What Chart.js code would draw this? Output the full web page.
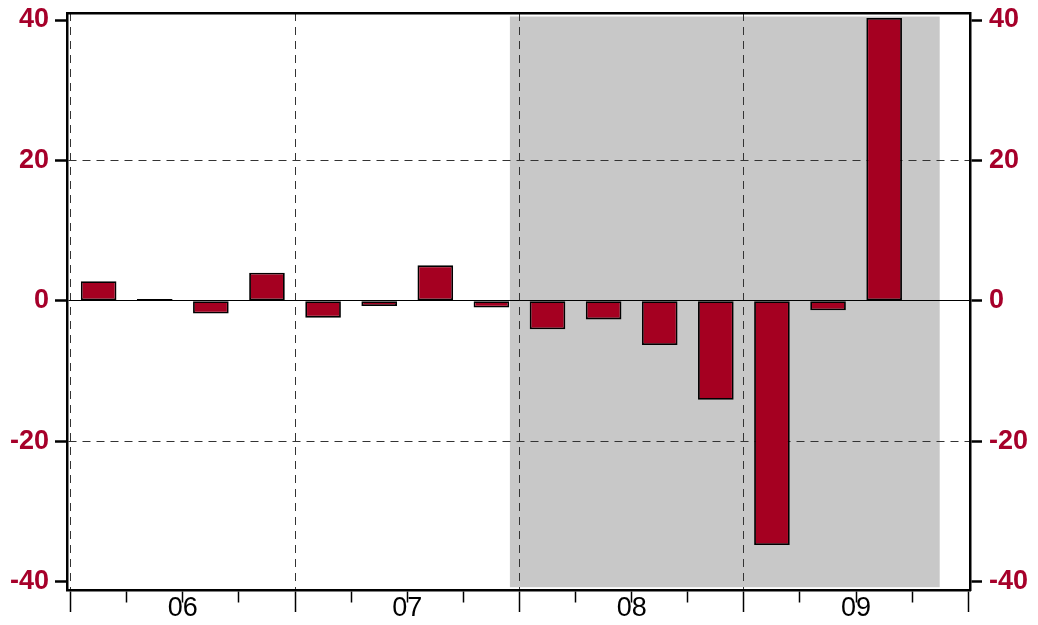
<!DOCTYPE html>
<html>
<head>
<meta charset="utf-8">
<script src="https://cdn.jsdelivr.net/npm/chart.js@4"></script>
<style>
html,body{margin:0;padding:0;background:#fff}
#wrap{width:1038px;height:625px;position:relative}
</style>
</head>
<body>
<div id="wrap"><canvas id="c"></canvas></div>
<script>
// ---- data ----
const quarters = ['2006Q1','2006Q2','2006Q3','2006Q4','2007Q1','2007Q2','2007Q3','2007Q4',
                  '2008Q1','2008Q2','2008Q3','2008Q4','2009Q1','2009Q2','2009Q3'];
const values = [2.8, 0.25, -1.8, 4.0, -2.4, -0.75, 5.05, -0.95,
                -4.05, -2.65, -6.3, -14.1, -34.8, -1.35, 40.3];
const yTicks = [-40, -20, 0, 20, 40];
const quarterTicks = [0,1,2,3,4,5,6,7,8,9,10,11,12,13,14,15,16];
const yearLabels = ['06','07','08','09'];
const yearCenters = [2, 6, 10, 14];
const yearBounds = [0, 4, 8, 12];
const shadeStart = 7.83, shadeEnd = 15.49, shadeTop = 40.5, shadeBottom = -40.8;
const yMin = -41.2, yMax = 41.0, xMin = -0.064, xMax = 16.03;

const FONT = '"Liberation Sans", Arial, Helvetica, sans-serif';
const RED = '#a6002a';
const BAR = '#a50021';

const shadePlugin = {
  id: 'shade',
  beforeDraw(chart) {
    const {ctx, scales: {x, y}} = chart;
    const l = x.getPixelForValue(shadeStart), r = x.getPixelForValue(shadeEnd);
    const t = y.getPixelForValue(shadeTop), b = y.getPixelForValue(shadeBottom);
    ctx.save();
    ctx.fillStyle = '#c8c8c8';
    ctx.fillRect(l, t, r - l, b - t);
    ctx.restore();
  }
};

const noPad = s => { s.paddingTop = 0; s.paddingBottom = 0; s.paddingLeft = 0; s.paddingRight = 0; };

new Chart(document.getElementById('c'), {
  type: 'bar',
  data: {
    labels: quarters,
    datasets: [{
      data: values.map((v, i) => ({x: i + 0.5, y: v})),
      backgroundColor: BAR,
      borderColor: '#000',
      borderWidth: 1.8,
      borderSkipped: false,
      categoryPercentage: 1,
      barPercentage: 0.635,
      xAxisID: 'x',
      yAxisID: 'y'
    }]
  },
  plugins: [shadePlugin],
  options: {
    responsive: true,
    maintainAspectRatio: false,
    animation: false,
    events: [],
    layout: {padding: 0},
    plugins: {legend: {display: false}, tooltip: {enabled: false}},
    scales: {
      x: {
        type: 'linear', position: 'bottom', min: xMin, max: xMax, offset: false,
        afterBuildTicks: s => { s.ticks = quarterTicks.map(v => ({value: v})); },
        afterFit: s => { s.height = 35; noPad(s); },
        ticks: {
          autoSkip: false, maxRotation: 0, minRotation: 0, padding: -20, color: '#000',
          font: {family: FONT, size: 27},
          callback: v => { const k = yearCenters.indexOf(v); return k >= 0 ? yearLabels[k] : ''; }
        },
        grid: {
          offset: false, drawOnChartArea: true, lineWidth: 1,
          color: c => (c.tick && yearBounds.includes(c.tick.value)) ? '#333' : 'rgba(0,0,0,0)',
          tickLength: 22, tickColor: '#000', tickWidth: 1.5,
          tickBorderDash: c => (c.tick && c.tick.value % 4 === 0) ? [] : [11, 100]
        },
        border: {display: true, color: '#000', width: 2.5, dash: c => c.type === 'tick' ? [8, 6] : []}
      },
      xTop: {
        type: 'linear', position: 'top', min: xMin, max: xMax, offset: false,
        afterFit: s => { s.height = 13; noPad(s); },
        ticks: {display: false},
        grid: {offset: false, drawOnChartArea: false, drawTicks: false},
        border: {display: true, color: '#000', width: 2.5}
      },
      y: {
        type: 'linear', position: 'left', min: yMin, max: yMax,
        afterBuildTicks: s => { s.ticks = yTicks.map(v => ({value: v})); },
        afterFit: s => { s.width = 67; noPad(s); },
        ticks: {autoSkip: false, padding: 6, color: RED, font: {family: FONT, size: 27, weight: 'bold'}},
        grid: {
          lineWidth: 1,
          color: c => c.tick.value === 0 ? '#000' : (Math.abs(c.tick.value) === 20 ? '#333' : 'rgba(0,0,0,0)'),
          tickLength: 12, tickColor: '#000', tickWidth: 2.5
        },
        border: {display: true, color: '#000', width: 2.5, dash: c => (c.type === 'tick' && c.tick.value !== 0) ? [8, 6] : []}
      },
      yR: {
        type: 'linear', position: 'right', min: yMin, max: yMax,
        afterBuildTicks: s => { s.ticks = yTicks.map(v => ({value: v})); },
        afterFit: s => { s.width = 68; noPad(s); },
        ticks: {autoSkip: false, padding: 7, color: RED, font: {family: FONT, size: 27, weight: 'bold'}},
        grid: {drawOnChartArea: false, tickLength: 12, tickColor: '#000', tickWidth: 2.5},
        border: {display: true, color: '#000', width: 2.5}
      }
    }
  }
});
</script>
</body>
</html>
